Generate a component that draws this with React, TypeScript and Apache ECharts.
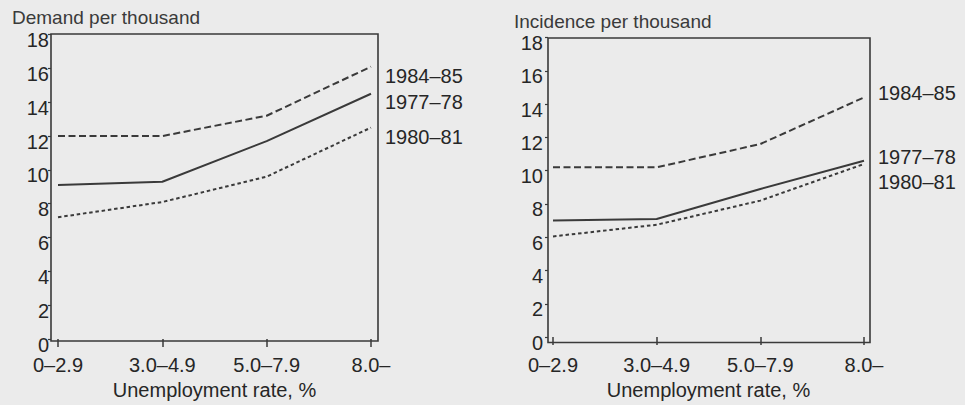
import React, { useEffect, useRef } from "react";
import * as echarts from "echarts";

const categories = ["0–2.9", "3.0–4.9", "5.0–7.9", "8.0–"];
const seriesNames = ["1984–85", "1977–78", "1980–81"];

// Demand per thousand (left panel)
const demand1984 = [12.0, 12.0, 13.2, 16.1];
const demand1977 = [9.1, 9.3, 11.7, 14.5];
const demand1980 = [7.2, 8.1, 9.6, 12.5];

// Incidence per thousand (right panel)
const incid1984 = [10.2, 10.2, 11.6, 14.4];
const incid1977 = [7.0, 7.1, 8.9, 10.6];
const incid1980 = [6.05, 6.75, 8.2, 10.4];

const yMin = 0;
const yMax = 18;
const yStep = 2;

const FONT = "'Liberation Sans', Arial, Helvetica, sans-serif";
const INK = "#262626";
const LINE = "#3a3a3a";
const FS = 20;

const lineTypes: any[] = [[7, 3.5], "solid", [3.5, 2.8]];

function buildSeries(values: number[][], gridIdx: number, labelDy: number[]) {
  return values.map((vals, s) => ({
    type: "line",
    name: seriesNames[s],
    xAxisIndex: gridIdx,
    yAxisIndex: gridIdx,
    symbol: "circle",
    symbolSize: 0,
    showSymbol: true,
    itemStyle: { color: LINE },
    lineStyle: { color: LINE, width: 2, type: lineTypes[s] },
    data: vals.map((v, i) =>
      i === vals.length - 1
        ? {
            value: v,
            label: {
              show: true,
              position: "right",
              distance: 14,
              offset: [0, labelDy[s]],
              formatter: seriesNames[s],
              color: INK,
              fontSize: FS,
              fontFamily: FONT,
            },
          }
        : v
    ),
    label: { show: false },
    emphasis: { disabled: true },
    silent: true,
  }));
}

export default function App() {
  const ref = useRef<HTMLDivElement>(null);

  useEffect(() => {
    if (!ref.current) return;
    const chart = echarts.init(ref.current, null, { renderer: "svg" });

    const xAxisBase = (margin: number, nameGap: number) => ({
      type: "category",
      data: categories,
      boundaryGap: false,
      axisLine: { show: false },
      axisTick: {
        show: true,
        interval: 0,
        alignWithLabel: true,
        length: 8,
        lineStyle: { color: LINE, width: 1.5 },
      },
      axisLabel: {
        interval: 0,
        hideOverlap: false,
        color: INK,
        fontSize: FS,
        fontFamily: FONT,
        margin,
      },
      name: "Unemployment rate, %",
      nameLocation: "middle",
      nameGap,
      nameTextStyle: { color: INK, fontSize: FS, fontFamily: FONT },
      splitLine: { show: false },
    });

    const yAxisBase = (offset: number, margin: number) => ({
      type: "value",
      min: yMin,
      max: yMax,
      interval: yStep,
      offset,
      axisLine: { show: false },
      axisTick: {
        show: true,
        length: 3,
        lineStyle: { color: LINE, width: 1.2 },
      },
      axisLabel: {
        color: INK,
        fontSize: FS,
        fontFamily: FONT,
        margin,
        verticalAlign: "top",
        lineHeight: 11,
      },
      splitLine: { show: false },
    });

    chart.setOption({
      animation: false,
      backgroundColor: "#ebebeb",
      textStyle: { fontFamily: FONT },
      title: [
        {
          text: "Demand per thousand",
          left: 7,
          top: 3,
          textStyle: {
            color: "#3a3a3a",
            fontSize: 19,
            fontWeight: "normal",
            fontFamily: FONT,
          },
        },
        {
          text: "Incidence per thousand",
          left: 509,
          top: 7,
          textStyle: {
            color: "#3a3a3a",
            fontSize: 19,
            fontWeight: "normal",
            fontFamily: FONT,
          },
        },
      ],
      grid: [
        { left: 58, top: 34.5, width: 313, height: 306.5 },
        { left: 553, top: 37.5, width: 311, height: 305 },
      ],
      xAxis: [
        { ...xAxisBase(16, 36), gridIndex: 0 },
        { ...xAxisBase(18, 38), gridIndex: 1 },
      ],
      yAxis: [
        { ...yAxisBase(7, 2), gridIndex: 0 },
        { ...yAxisBase(5, 5), gridIndex: 1 },
      ],
      graphic: [
        {
          type: "rect",
          shape: { x: 51, y: 34, width: 327, height: 307 },
          style: { fill: "none", stroke: LINE, lineWidth: 1.6 },
          silent: true,
          z: 10,
        },
        {
          type: "rect",
          shape: { x: 548, y: 38, width: 322, height: 304.5 },
          style: { fill: "none", stroke: LINE, lineWidth: 1.6 },
          silent: true,
          z: 10,
        },
      ],
      series: [
        ...buildSeries([demand1984, demand1977, demand1980], 0, [9, 8, 9]),
        ...buildSeries([incid1984, incid1977, incid1980], 1, [-4, -4, 18]),
      ],
    });

    return () => chart.dispose();
  }, []);

  return (
    <div
      ref={ref}
      style={{
        position: "fixed",
        left: 0,
        top: 0,
        width: 965,
        height: 405,
        background: "#ebebeb",
      }}
    />
  );
}
